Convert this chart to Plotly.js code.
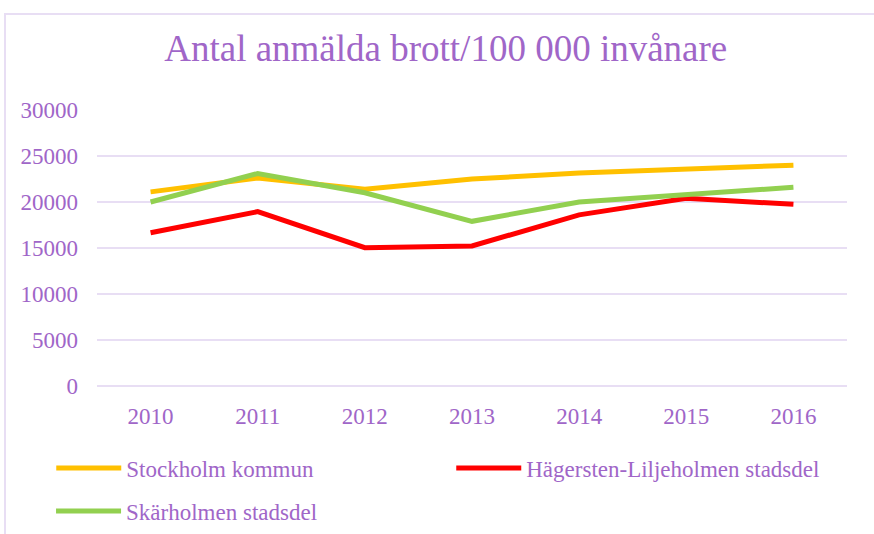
<!DOCTYPE html>
<html>
<head>
<meta charset="utf-8">
<script src="https://cdn.plot.ly/plotly-3.0.1.min.js"></script>
<style>
  html, body { margin: 0; padding: 0; background: #fff; }
  #wrap { position: relative; width: 874px; height: 534px; overflow: hidden; }
  #frame { position: absolute; left: 4px; top: 13px; width: 900px; height: 600px;
           border-left: 2px solid #E8DEF4; border-top: 2px solid #E8DEF4; box-sizing: border-box; }
  #chart { position: absolute; left: 0; top: 0; width: 874px; height: 534px; }
</style>
</head>
<body>
<div id="wrap">
  <div id="chart"></div>
  <div id="frame"></div>
</div>
<script>
const years = ['2010', '2011', '2012', '2013', '2014', '2015', '2016'];
const stockholm = [21100, 22600, 21400, 22500, 23150, 23600, 24000];
const hagersten = [16650, 18950, 15030, 15220, 18600, 20400, 19750];
const skarholmen = [20000, 23100, 21000, 17900, 20000, 20750, 21600];
const seriesNames = ['Stockholm kommun', 'Hägersten-Liljeholmen stadsdel', 'Skärholmen stadsdel'];
const yTicks = [0, 5000, 10000, 15000, 20000, 25000, 30000];

const txt = '#A066C8';
const grid = '#E8DEF4';
const font = 'Liberation Serif, Times New Roman, serif';

const mk = (y, name, color, leg) => ({
  x: years, y: y, name: name, type: 'scatter', mode: 'lines', legend: leg,
  line: { color: color, width: 5 }
});

const data = [
  mk(stockholm, seriesNames[0], '#FFC000', 'legend'),
  mk(hagersten, seriesNames[1], '#FF0000', 'legend'),
  mk(skarholmen, seriesNames[2], '#92D050', 'legend2')
];

const legBase = {
  orientation: 'h', xanchor: 'left', yanchor: 'middle',
  entrywidth: 320, entrywidthmode: 'pixels', itemwidth: 65,
  font: { family: font, size: 23, color: txt }, bgcolor: 'rgba(0,0,0,0)'
};

const layout = {
  width: 874, height: 534,
  paper_bgcolor: 'rgba(0,0,0,0)', plot_bgcolor: 'rgba(0,0,0,0)',
  margin: { l: 97, r: 27, t: 110, b: 148 },
  font: { family: font, color: txt, size: 23 },
  title: { text: 'Antal anmälda brott/100 000 invånare', font: { family: font, size: 37, color: txt },
           x: 0.51, xanchor: 'center', y: 0.91, yanchor: 'middle' },
  xaxis: { type: 'category', range: [-0.5, 6.5], showgrid: false, zeroline: false, showline: false,
           ticks: '', ticklabelstandoff: 14, tickfont: { size: 23, color: txt } },
  yaxis: { range: [0, 30000], tickvals: yTicks, ticktext: yTicks.map(String), showgrid: true,
           gridcolor: grid, gridwidth: 2, zeroline: true, zerolinecolor: grid, zerolinewidth: 2,
           showline: false, ticks: '', ticklabelstandoff: 18, tickfont: { size: 23, color: txt } },
  showlegend: true,
  legend: Object.assign({}, legBase, { xref: 'paper', yref: 'paper', x: -0.061, y: -0.297 }),
  legend2: Object.assign({}, legBase, { xref: 'container', yref: 'container', x: 0.0584, y: 1 - 511 / 534 })
};

Plotly.newPlot('chart', data, layout, { displayModeBar: false, staticPlot: true });
</script>
</body>
</html>
